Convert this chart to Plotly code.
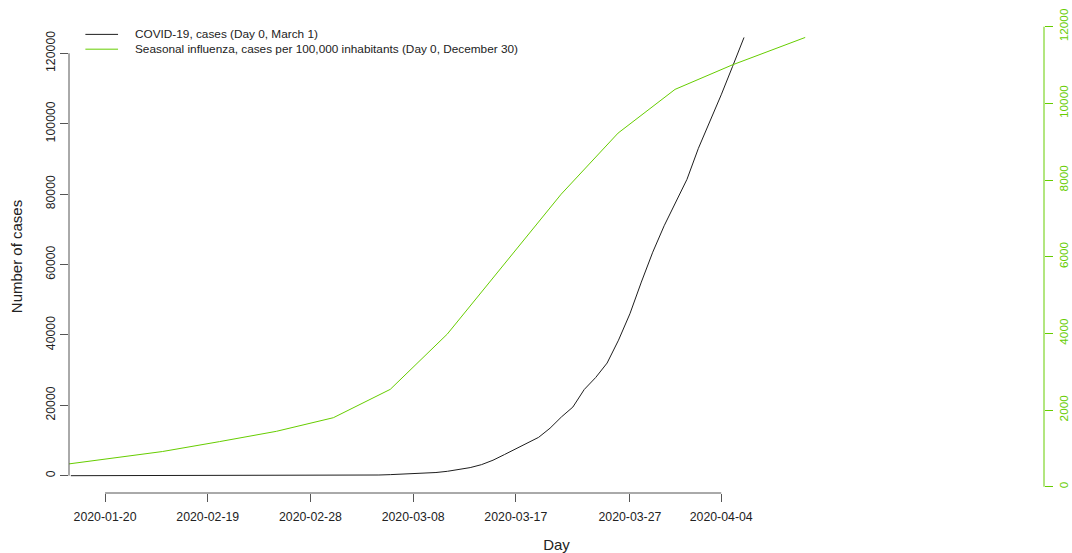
import plotly.graph_objects as go

# COVID-19 cumulative cases, days counted from March 1
covid_day = list(range(-23, 37))
covid_cases = [
    0, 0, 0, 0, 0, 0, 0, 0, 0, 0,
    0, 0, 0, 0, 0, 0, 0, 0, 0, 0,
    0, 0, 10,
    30, 60, 100, 150, 200, 300, 400, 520, 650, 900,
    1250, 1750, 2300, 3150, 4400, 6000, 7700, 9200, 10900, 13500,
    16700, 19500, 24500, 27900, 32000, 38500, 46000, 55000, 63500, 71000,
    77500, 84200, 93000, 100500, 108200, 116300, 124500,
]

# Seasonal influenza, weekly cumulative cases per 100,000 inhabitants (days from December 30)
flu_day = [0, 7, 14, 21, 28, 35, 42, 49, 56, 63, 70, 77, 84, 93]
flu_cases = [525, 712, 918, 1176, 1445, 1800, 2540, 3980, 5805, 7630, 9225, 10365, 11000, 11720]

# Axis ticks
day_ticks = [-20, -11, -2, 7, 16, 26, 34]
day_labels = ["2020-01-20", "2020-02-19", "2020-02-28", "2020-03-08",
              "2020-03-17", "2020-03-27", "2020-04-04"]
case_ticks = [0, 20000, 40000, 60000, 80000, 100000, 120000]
flu_ticks = [0, 2000, 4000, 6000, 8000, 10000, 12000]

BLACK = "#1e1e1e"
GREEN = "#66CD00"
AXIS = "#555555"
FONT = "Liberation Sans, Arial, Helvetica, sans-serif"
FS = 12.3

fig = go.Figure()
fig.add_trace(go.Scatter(
    x=covid_day, y=covid_cases, mode="lines",
    line=dict(color=BLACK, width=1), name="COVID-19, cases (Day 0, March 1)",
    showlegend=False, xaxis="x", yaxis="y",
))
fig.add_trace(go.Scatter(
    x=flu_day, y=flu_cases, mode="lines",
    line=dict(color=GREEN, width=1),
    name="Seasonal influenza, cases per 100,000 inhabitants (Day 0, December 30)",
    showlegend=False, xaxis="x2", yaxis="y2",
))

# Axis lines spanning only the tick range
fig.add_shape(type="line", xref="paper", yref="y", x0=0, x1=0,
              y0=case_ticks[0], y1=case_ticks[-1], line=dict(color=AXIS, width=1))
fig.add_shape(type="line", xref="paper", yref="y2", x0=1, x1=1,
              y0=flu_ticks[0], y1=flu_ticks[-1], line=dict(color=GREEN, width=1))
fig.add_shape(type="line", xref="x", yref="paper", x0=day_ticks[0], x1=day_ticks[-1],
              y0=0, y1=0, line=dict(color=AXIS, width=1))

# Legend
legend_items = [(BLACK, "COVID-19, cases (Day 0, March 1)", 0.9696),
                (GREEN, "Seasonal influenza, cases per 100,000 inhabitants (Day 0, December 30)", 0.9383)]
for color, text, yy in legend_items:
    fig.add_shape(type="line", xref="paper", yref="paper", x0=0.0168, x1=0.0503,
                  y0=yy, y1=yy, line=dict(color=color, width=1))
    fig.add_annotation(xref="paper", yref="paper", x=0.0655, y=yy, text=text,
                       showarrow=False, xanchor="left", yanchor="middle",
                       font=dict(family=FONT, size=11.8, color="#222222"))

fig.update_layout(
    width=1072, height=553,
    margin=dict(l=69, r=28, t=20, b=60),
    paper_bgcolor="white", plot_bgcolor="white",
    font=dict(family=FONT, size=FS, color="#222222"),
    showlegend=False,
    xaxis=dict(
        range=[-23.16, 62.29], tickmode="array", tickvals=day_ticks, ticktext=day_labels,
        ticks="outside", ticklen=8, tickcolor=AXIS, showline=False, showgrid=False,
        zeroline=False, automargin=False, ticklabelstandoff=4,
        title=dict(text="Day", standoff=20),
    ),
    xaxis2=dict(range=[2.51, 122.35], overlaying="x", visible=False),
    yaxis=dict(
        range=[-4915, 129461], tickmode="array", tickvals=case_ticks,
        ticktext=[str(v) for v in case_ticks],
        ticks="outside", ticklen=8, tickcolor=AXIS, tickangle=-90,
        showline=False, showgrid=False, zeroline=False, automargin=False,
        ticklabelstandoff=0,
        title=dict(text="Number of cases", standoff=17),
    ),
    yaxis2=dict(
        range=[-164, 12175], overlaying="y", side="right", tickmode="array",
        tickvals=flu_ticks, ticktext=[str(v) for v in flu_ticks],
        ticks="outside", ticklen=8, tickcolor=GREEN,
        tickangle=-90, tickfont=dict(color=GREEN, size=11.8), showline=False,
        showgrid=False, zeroline=False, automargin=False, ticklabelstandoff=1,
    ),
)

fig.write_html("out.html")
